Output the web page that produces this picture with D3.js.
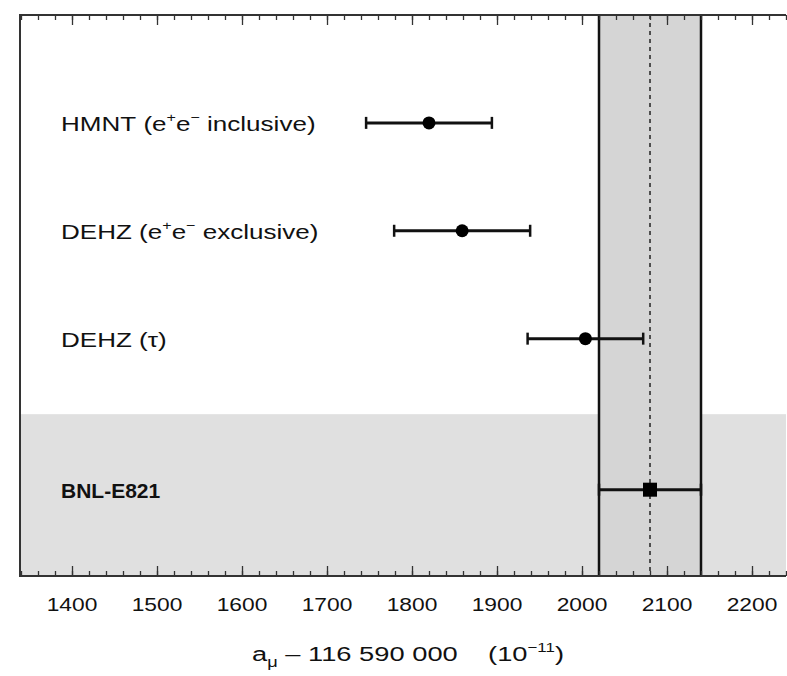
<!DOCTYPE html>
<html>
<head>
<meta charset="utf-8">
<script src="https://cdn.jsdelivr.net/npm/d3@7"></script>
<style>
  body { margin: 0; background: #fff; }
  text { font-family: "Liberation Sans", Arial, sans-serif; fill: #111; white-space: pre; }
</style>
</head>
<body>
<div class="wrap"></div>
<script>
// measurements of a_mu - 116 590 000 (10^-11)
const names = ['HMNT', 'DEHZ', 'DEHZ', 'BNL-E821']
const notes = ['inclusive', 'exclusive', 'tau', '']
const values = [1820, 1859, 2004, 2080]
const errors = [74, 80, 68, 60]
const tickValues = [1400, 1500, 1600, 1700, 1800, 1900, 2000, 2100, 2200]

const expIndex = 3   // BNL-E821 is the experiment, the rest are theory

const width = 787, height = 676
const plotTop = 15, plotBottom = 576, plotLeft = 20, plotRight = 786
const stretch = 1.2  // the original lettering is wide

const svg = d3.select('.wrap').append('svg')
  .attr('width', width)
  .attr('height', height)

let x = d3.scaleLinear()
  .domain([1340, 2240])
  .range([plotLeft + 1, plotRight])

// row slots, experiment sits a bit lower than the theory rows
const slot = [0, 1, 2, 3.4]
let y = d3.scaleLinear()
  .domain([-1, 4.2])
  .range([plotTop, plotBottom])

// grey area for the experimental row
svg.append('rect')
  .attr('x', plotLeft)
  .attr('y', y(2.7))
  .attr('width', plotRight - plotLeft)
  .attr('height', plotBottom - y(2.7))
  .attr('fill', '#e0e0e0')

// experimental band
const lo = values[expIndex] - errors[expIndex]
const hi = values[expIndex] + errors[expIndex]
svg.append('rect')
  .attr('x', x(lo))
  .attr('y', plotTop)
  .attr('width', x(hi) - x(lo))
  .attr('height', plotBottom - plotTop)
  .attr('fill', '#d5d5d5')

svg.selectAll('.band-edge')
  .data([lo, hi])
  .enter()
  .append('line')
  .attr('class', 'band-edge')
  .attr('x1', d => x(d)).attr('x2', d => x(d))
  .attr('y1', plotTop).attr('y2', plotBottom)
  .attr('stroke', '#111')
  .attr('stroke-width', 2.5)

svg.append('line')
  .attr('x1', x(values[expIndex])).attr('x2', x(values[expIndex]))
  .attr('y1', plotTop).attr('y2', plotBottom)
  .attr('stroke', '#222')
  .attr('stroke-width', 1.5)
  .attr('stroke-dasharray', '4,4')

// axes, bottom and mirrored top
const minor = d3.range(1340, 2241, 20)
svg.append('g')
  .attr('transform', `translate(0,${plotBottom})`)
  .call(d3.axisTop(x).tickValues(minor).tickSize(5).tickFormat(''))
svg.append('g')
  .attr('transform', `translate(0,${plotBottom})`)
  .call(d3.axisTop(x).tickValues(tickValues).tickSize(10).tickFormat(''))
svg.append('g')
  .attr('transform', `translate(0,${plotTop})`)
  .call(d3.axisBottom(x).tickValues(minor).tickSize(5).tickFormat(''))
svg.append('g')
  .attr('transform', `translate(0,${plotTop})`)
  .call(d3.axisBottom(x).tickValues(tickValues).tickSize(10).tickFormat(''))

svg.selectAll('.domain').remove()
svg.selectAll('.tick line').attr('stroke', '#333').attr('stroke-width', 1.3)

// frame
svg.append('path')
  .attr('d', `M${plotRight},${plotTop}H${plotLeft}V${plotBottom}H${plotRight}`)
  .attr('fill', 'none')
  .attr('stroke', '#333')
  .attr('stroke-width', 2)

// tick labels
svg.selectAll('.tlabel')
  .data(tickValues)
  .enter()
  .append('text')
  .attr('class', 'tlabel')
  .attr('transform', d => `translate(${x(d)},611) scale(${stretch},1)`)
  .attr('text-anchor', 'middle')
  .style('font-size', '19px')
  .text(d => d)

// axis title
const title = svg.append('text')
  .attr('transform', `translate(408,661) scale(1.3,1)`)
  .attr('text-anchor', 'middle')
  .style('font-size', '21px')
title.append('tspan').text('a')
title.append('tspan').attr('dy', 6).style('font-size', '14px').text('μ')
title.append('tspan').attr('dy', -6).text(' – 116 590 000    (10')
title.append('tspan').attr('dy', -9).style('font-size', '13px').text('−11')
title.append('tspan').attr('dy', 9).text(')')

// row labels
const labels = svg.selectAll('.rlabel')
  .data(names)
  .enter()
  .append('text')
  .attr('class', 'rlabel')
  .attr('transform', (d, i) => `translate(61,${y(slot[i]) + 8}) scale(${i === expIndex ? 1 : 1.24},1)`)
  .style('font-size', '21px')
  .style('font-weight', (d, i) => i === expIndex ? 'bold' : 'normal')

labels.each(function(d, i) {
  const t = d3.select(this)
  t.append('tspan').text(d)
  if (notes[i] === 'tau') {
    t.append('tspan').text(' (τ)')
  } else if (notes[i]) {
    t.append('tspan').text(' (e')
    t.append('tspan').attr('dy', -9).style('font-size', '13px').text('+')
    t.append('tspan').attr('dy', 9).text('e')
    t.append('tspan').attr('dy', -9).style('font-size', '13px').text('−')
    t.append('tspan').attr('dy', 9).text(' ' + notes[i] + ')')
  }
})

// error bars
const bars = svg.selectAll('.bar')
  .data(values)
  .enter()
  .append('g')
  .attr('class', 'bar')
  .attr('transform', (d, i) => `translate(0,${y(slot[i])})`)

bars.append('line')
  .attr('x1', (d, i) => x(d - errors[i]))
  .attr('x2', (d, i) => x(d + errors[i]))
  .attr('stroke', '#111')
  .attr('stroke-width', 3)

bars.selectAll('.cap')
  .data((d, i) => [d - errors[i], d + errors[i]])
  .enter()
  .append('line')
  .attr('class', 'cap')
  .attr('x1', d => x(d)).attr('x2', d => x(d))
  .attr('y1', -6).attr('y2', 6)
  .attr('stroke', '#111')
  .attr('stroke-width', 2.5)

bars.filter((d, i) => i !== expIndex)
  .append('circle')
  .attr('cx', d => x(d))
  .attr('r', 6.5)
  .attr('fill', '#000')

bars.filter((d, i) => i === expIndex)
  .append('rect')
  .attr('x', d => x(d) - 7)
  .attr('y', -7)
  .attr('width', 14)
  .attr('height', 14)
  .attr('fill', '#000')
</script>
</body>
</html>
